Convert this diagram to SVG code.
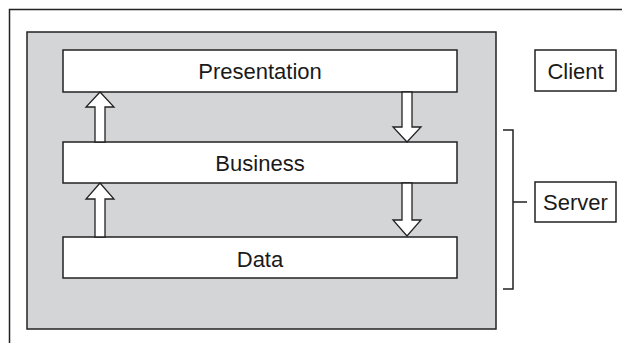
<svg xmlns="http://www.w3.org/2000/svg" width="622" height="343" viewBox="0 0 622 343">
<style>
.ln{fill:none;stroke:#222;stroke-width:1.5}
.box{fill:#fff;stroke:#222;stroke-width:1.5}
.arr{fill:#fff;stroke:#222;stroke-width:1.3;stroke-linejoin:miter}
.t{font-family:"Liberation Sans",Arial,sans-serif;font-size:22px;fill:#1a1a1a;text-anchor:middle}
</style>
<rect width="622" height="343" fill="#fff"/>
<path class="ln" d="M9.5 343 V9.5 H622"/>
<rect id="tier" x="27" y="32" width="469" height="297" fill="#d4d5d7" stroke="#222" stroke-width="1.5"/>
<g id="presentation"><rect class="box" x="63" y="50" width="394" height="42"/><text class="t" x="260" y="79">Presentation</text></g>
<g id="business"><rect class="box" x="63" y="142" width="394" height="41"/><text class="t" x="260" y="171">Business</text></g>
<g id="data"><rect class="box" x="63" y="237" width="394" height="41"/><text class="t" x="260" y="267">Data</text></g>
<g id="client"><rect class="box" x="535" y="50" width="81" height="41"/><text class="t" x="575.5" y="79">Client</text></g>
<g id="server"><rect class="box" x="535" y="182" width="81" height="40"/><text class="t" x="575.5" y="210">Server</text></g>
<g id="connectors">
<path class="arr" d="M95 142 V107 H86 L100 92 L114 107 H105 V142 Z"/>
<path class="arr" d="M402 92 V127 H393 L407 142 L421 127 H412 V92 Z"/>
<path class="arr" d="M95 237 V199 H86 L100 183 L114 199 H105 V237 Z"/>
<path class="arr" d="M402 183 V220 H393 L407 236 L421 220 H412 V183 Z"/>
<path class="ln" d="M503 130 H513 V289 H503 M513 202 H527"/>
</g>
</svg>
